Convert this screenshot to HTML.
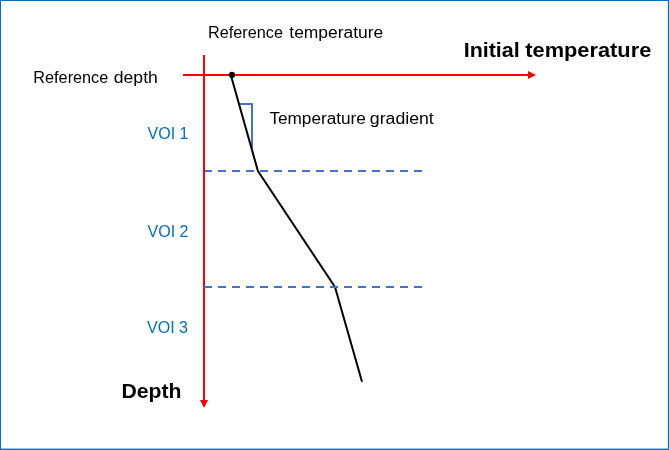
<!DOCTYPE html>
<html lang="en">
<head>
<meta charset="utf-8">
<title>Initial temperature</title>
<style>
html,body{margin:0;padding:0;background:#fff;}
body{width:669px;height:450px;overflow:hidden;}
svg{display:block;}
text{font-family:"Liberation Sans",sans-serif;}
.n{font-size:16px;fill:#000;}
.b{font-size:20px;font-weight:bold;fill:#000;}
.v{font-size:16px;fill:#0070c0;}
</style>
</head>
<body>
<svg width="669" height="450" viewBox="0 0 669 450">
  <rect x="0" y="0" width="669" height="450" fill="#ffffff"/>
  <!-- frame -->
  <rect x="0" y="0" width="669" height="1" fill="#0070c0"/>
  <rect x="0" y="0" width="1" height="450" fill="#0070c0"/>
  <rect x="667.9" y="0" width="1.1" height="450" fill="#0070c0"/>
  <rect x="0" y="448.6" width="669" height="1.4" fill="#0070c0"/>

  <!-- dashed VOI boundaries -->
  <line x1="204" y1="171" x2="422.5" y2="171" stroke="#4472c4" stroke-width="2" stroke-dasharray="8 6"/>

  <!-- axes -->
  <line x1="183" y1="75" x2="529" y2="75" stroke="#ff0000" stroke-width="2"/>
  <polygon points="528,71 536,75 528,79" fill="#ff0000"/>
  <line x1="204" y1="55" x2="204" y2="401" stroke="#ff0000" stroke-width="2"/>
  <polygon points="200,400 208,400 204,408" fill="#ff0000"/>

  <!-- gradient marker -->
  <polyline points="239,104 252,104 252,149" fill="none" stroke="#4472c4" stroke-width="2" stroke-linejoin="round"/>

  <!-- temperature profile -->
  <polyline points="230.8,75 257.9,171 335,287 362,381.7" fill="none" stroke="#000000" stroke-width="2" stroke-linejoin="round"/>
  <circle cx="232" cy="74.9" r="3.05" fill="#000000"/>

  <line x1="204" y1="287" x2="422.5" y2="287" stroke="#4472c4" stroke-width="2" stroke-dasharray="8 6"/>

  <!-- labels -->
  <text class="n" y="38"><tspan x="208" textLength="75" lengthAdjust="spacingAndGlyphs">Reference</tspan> <tspan x="289.3" textLength="94" lengthAdjust="spacingAndGlyphs">temperature</tspan></text>
  <text class="b" y="56.5"><tspan x="463.7" textLength="56" lengthAdjust="spacingAndGlyphs">Initial</tspan> <tspan x="525.3" textLength="126" lengthAdjust="spacingAndGlyphs">temperature</tspan></text>
  <text class="n" y="82.7"><tspan x="33.3" textLength="75" lengthAdjust="spacingAndGlyphs">Reference</tspan> <tspan x="113.8" textLength="44" lengthAdjust="spacingAndGlyphs">depth</tspan></text>
  <text class="n" y="124"><tspan x="269.4" textLength="96.5" lengthAdjust="spacingAndGlyphs">Temperature</tspan> <tspan x="369.8" textLength="64" lengthAdjust="spacingAndGlyphs">gradient</tspan></text>
  <text class="v" x="147.5" y="138.5" textLength="41" lengthAdjust="spacingAndGlyphs">VOI 1</text>
  <text class="v" x="147.5" y="236.5" textLength="41" lengthAdjust="spacingAndGlyphs">VOI 2</text>
  <text class="v" x="147" y="332.5" textLength="41" lengthAdjust="spacingAndGlyphs">VOI 3</text>
  <text class="b" x="121.5" y="397.6" textLength="60" lengthAdjust="spacingAndGlyphs">Depth</text>
</svg>
</body>
</html>
